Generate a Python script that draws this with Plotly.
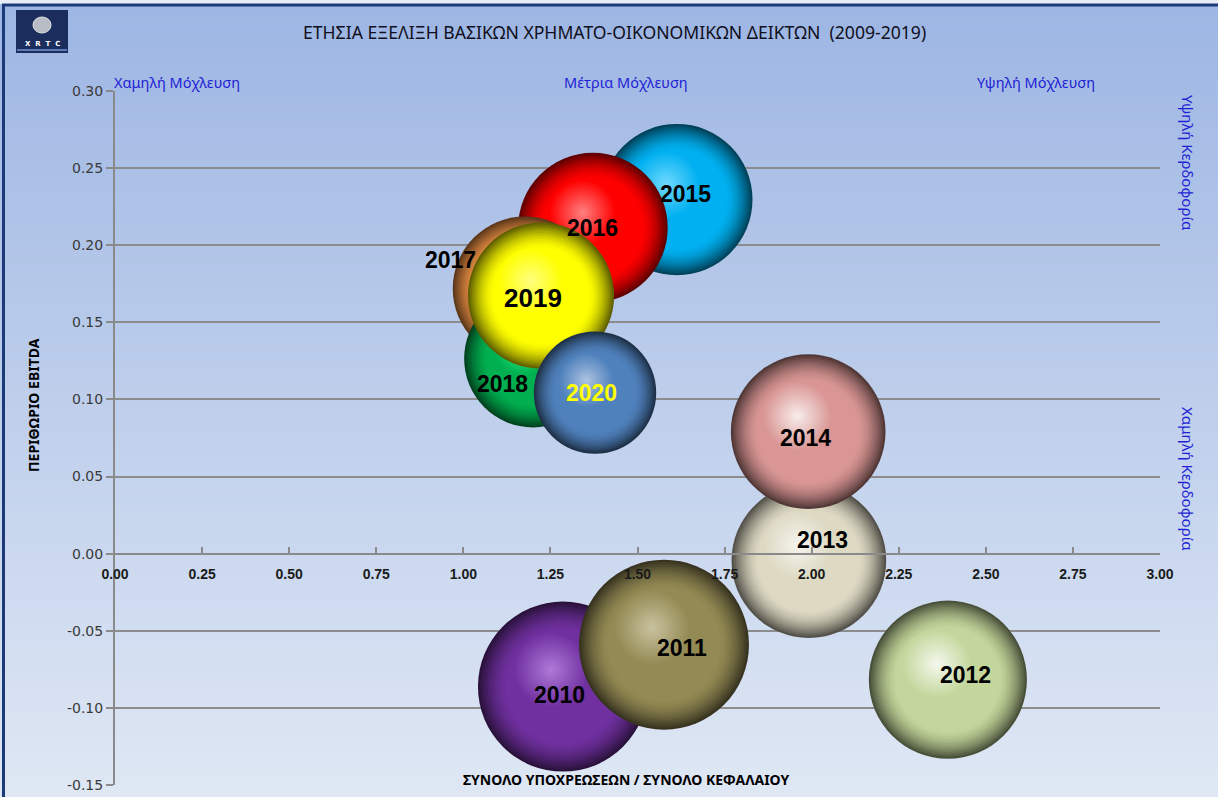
import colorsys
import plotly.graph_objects as go

# ---------------- data ----------------
years = ["2010", "2011", "2012", "2013", "2014", "2015", "2016", "2017", "2018", "2019", "2020"]
leverage = [1.286, 1.576, 2.391, 1.992, 1.990, 1.613, 1.372, 1.177, 1.200, 1.223, 1.378]
ebitda_margin = [-0.0862, -0.0590, -0.0817, -0.0045, 0.0791, 0.2296, 0.2114, 0.1718, 0.1265, 0.1673, 0.1044]
bubble_size = [1.00, 1.00, 0.93, 0.91, 0.91, 0.89, 0.88, 0.85, 0.81, 0.86, 0.72]

x_ticks = [0, 0.25, 0.5, 0.75, 1.0, 1.25, 1.5, 1.75, 2.0, 2.25, 2.5, 2.75, 3.0]
y_ticks = [-0.15, -0.10, -0.05, 0.00, 0.05, 0.10, 0.15, 0.20, 0.25, 0.30]

title_text = "ΕΤΗΣΙΑ ΕΞΕΛΙΞΗ ΒΑΣΙΚΩΝ ΧΡΗΜΑΤΟ-ΟΙΚΟΝΟΜΙΚΩΝ ΔΕΙΚΤΩΝ  (2009-2019)"
x_title = "ΣΥΝΟΛΟ ΥΠΟΧΡΕΩΣΕΩΝ / ΣΥΝΟΛΟ ΚΕΦΑΛΑΙΟΥ"
y_title = "ΠΕΡΙΘΩΡΙΟ EBITDA"
leverage_zones = ["Χαμηλή Μόχλευση", "Μέτρια Μόχλευση", "Υψηλή Μόχλευση"]
profit_zones = ["Υψηλή Κερδοφορία", "Χαμηλή Κερδοφορία"]

# ---------------- style ----------------
base_colors = ["#7030a0", "#948a54", "#c3d69b", "#ddd9c3", "#d99694", "#00b0f0", "#ff0000",
               "#f79646", "#00b050", "#ffff00", "#4f81bd"]
label_colors = ["#000000"] * 10 + ["#ffff00"]
label_size = [23, 23, 23, 23, 23, 23, 23, 23, 23, 26, 23]
label_dx = [-3, 18, 18, 14, -3, 9, 0, -74, -31, -8, -4]
label_dy = [-8, -3, 5, 21, -6, 6, 0, 29, -25, -2, 0]
MAX_DIAM = 170

W, H = 1218, 797
L, R, T, B = 115, 58, 91, 12
pw, ph = W - L - R, H - T - B


def px(xp):
    return (xp - L) / pw


def py(yp):
    return (H - B - yp) / ph


def hex2rgb(h):
    h = h.lstrip("#")
    return [int(h[i:i + 2], 16) for i in (0, 2, 4)]


def rgb(c):
    return "rgb(%d,%d,%d)" % tuple(max(0, min(255, round(v))) for v in c)


def mix(a, b, t):
    return [a[i] + (b[i] - a[i]) * t for i in range(3)]


def lighten(c, dl):
    h, l, s = colorsys.rgb_to_hls(*[v / 255 for v in c])
    l = min(0.95, l + dl)
    return [v * 255 for v in colorsys.hls_to_rgb(h, l, s)]


xmin, xmax = 0, 3
ymin, ymax = -0.15, 0.30
sx = pw / (xmax - xmin)
sy = ph / (ymax - ymin)

fig = go.Figure()

RIM_START = 0.66
N_RIM = 12
for i, yr in enumerate(years):
    base = hex2rgb(base_colors[i])
    hi = lighten(base, 0.25)
    dark = [v * 0.38 for v in base]
    diam = bubble_size[i] * MAX_DIAM
    xs, ys, sizes, cols, grads = [], [], [], [], []
    # soft rim: concentric discs, darker at the edge
    for k in range(N_RIM):
        r = 1 - k * (1 - RIM_START) / N_RIM
        t = (r - RIM_START) / (1 - RIM_START)
        c = mix(base, dark, t ** 1.6)
        xs.append(leverage[i]); ys.append(ebitda_margin[i])
        sizes.append(diam * r); cols.append(rgb(c)); grads.append(rgb(c))
    # body
    xs.append(leverage[i]); ys.append(ebitda_margin[i])
    sizes.append(diam * RIM_START); cols.append(rgb(base)); grads.append(rgb(base))
    # highlight, offset to the upper-left
    rad = diam / 2
    hr = 0.44
    xs.append(leverage[i] - 0.14 * rad / sx)
    ys.append(ebitda_margin[i] + 0.20 * rad / sy)
    sizes.append(diam * hr); cols.append(rgb(base)); grads.append(rgb(hi))
    fig.add_trace(go.Scatter(
        x=xs, y=ys, mode="markers",
        marker=dict(size=sizes, sizemode="diameter", color=cols, opacity=1,
                    line=dict(width=0), gradient=dict(type="radial", color=grads)),
        name=yr, hovertext=yr, hoverinfo="text", showlegend=False,
    ))

annotations = []
for i, yr in enumerate(years):
    annotations.append(dict(
        x=leverage[i], y=ebitda_margin[i], xref="x", yref="y", text="<b>%s</b>" % yr,
        showarrow=False, xshift=label_dx[i], yshift=label_dy[i],
        font=dict(family="Liberation Sans", size=label_size[i], color=label_colors[i]),
    ))

zone_font = dict(family="Noto Sans", size=14.5, color="#1f1fd6")
annotations += [
    dict(x=px(112), y=py(82), xref="paper", yref="paper", text=leverage_zones[0], showarrow=False,
         xanchor="left", yanchor="middle", font=zone_font),
    dict(x=px(626), y=py(82), xref="paper", yref="paper", text=leverage_zones[1], showarrow=False,
         xanchor="center", yanchor="middle", font=zone_font),
    dict(x=px(1036), y=py(82), xref="paper", yref="paper", text=leverage_zones[2], showarrow=False,
         xanchor="center", yanchor="middle", font=zone_font),
    dict(x=px(1188), y=py(163), xref="paper", yref="paper", text=profit_zones[0], showarrow=False,
         textangle=90, xanchor="center", yanchor="middle", font=dict(zone_font, size=15)),
    dict(x=px(1188), y=py(479), xref="paper", yref="paper", text=profit_zones[1], showarrow=False,
         textangle=90, xanchor="center", yanchor="middle", font=dict(zone_font, size=15)),
    dict(x=px(614), y=py(32), xref="paper", yref="paper", text=title_text, showarrow=False,
         xanchor="center", yanchor="middle",
         font=dict(family="Noto Sans", size=17.6, color="#101020")),
    dict(x=px(626), y=py(779), xref="paper", yref="paper", text="<b>%s</b>" % x_title, showarrow=False,
         xanchor="center", yanchor="middle",
         font=dict(family="Noto Sans", size=14, color="#000000")),
    dict(x=px(33), y=py(405), xref="paper", yref="paper", text="<b>%s</b>" % y_title, showarrow=False,
         textangle=-90, xanchor="center", yanchor="middle",
         font=dict(family="Noto Sans", size=14, color="#000000")),
    dict(x=px(42), y=py(44), xref="paper", yref="paper", text="<b>X  R  T  C</b>", showarrow=False,
         xanchor="center", yanchor="middle",
         font=dict(family="DejaVu Sans", size=7, color="#ffffff")),
]

# background gradient bands
shapes = []
top = (157, 182, 227)
bot = (223, 231, 244)
n = 100
for k in range(n):
    t = k / (n - 1)
    c = tuple(int(round(top[j] + (bot[j] - top[j]) * t)) for j in range(3))
    y0p = k * H / n
    y1p = (k + 1) * H / n + 1
    shapes.append(dict(type="rect", xref="paper", yref="paper", layer="below",
                       x0=px(0), x1=px(W), y0=py(y1p), y1=py(y0p),
                       fillcolor="rgb(%d,%d,%d)" % c, line=dict(width=0)))
shapes.append(dict(type="rect", xref="paper", yref="paper", layer="below",
                   x0=px(0), x1=px(W), y0=py(4), y1=py(0), fillcolor="#e8eef8", line=dict(width=0)))
shapes.append(dict(type="line", xref="paper", yref="paper", layer="above",
                   x0=px(2), x1=px(W), y0=py(5), y1=py(5), line=dict(color="#1d3a78", width=3)))
shapes.append(dict(type="line", xref="paper", yref="paper", layer="above",
                   x0=px(3.5), x1=px(3.5), y0=py(5), y1=py(H), line=dict(color="#1d3a78", width=3)))
# logo
shapes.append(dict(type="rect", xref="paper", yref="paper", layer="above",
                   x0=px(16), x1=px(68), y0=py(53), y1=py(10), fillcolor="#1b2d5c",
                   line=dict(width=0)))
shapes.append(dict(type="circle", xref="paper", yref="paper", layer="above",
                   x0=px(33), x1=px(51), y0=py(33), y1=py(17), fillcolor="#b8bcc4",
                   line=dict(color="#e0e0e0", width=1)))
shapes.append(dict(type="rect", xref="paper", yref="paper", layer="above",
                   x0=px(17), x1=px(67), y0=py(51), y1=py(49), fillcolor="#5d7ab8",
                   line=dict(width=0)))

fig.update_layout(
    width=W, height=H, autosize=False,
    margin=dict(l=L, r=R, t=T, b=B, pad=0, autoexpand=False),
    paper_bgcolor="#dde6f4", plot_bgcolor="rgba(0,0,0,0)",
    showlegend=False,
    annotations=annotations,
    shapes=shapes,
    xaxis=dict(
        range=[xmin, xmax], tickvals=x_ticks, ticktext=["<b>%.2f</b>" % v for v in x_ticks],
        showgrid=False, zeroline=False, automargin=False,
        showline=True, linecolor="#8a8a8a", linewidth=2,
        ticks="inside", ticklen=6, tickcolor="#8a8a8a", tickwidth=1.5,
        anchor="free", position=(0 - ymin) / (ymax - ymin),
        ticklabelstandoff=8,
        tickfont=dict(family="Liberation Sans", size=14, color="#1a1a1a"),
        fixedrange=True,
    ),
    yaxis=dict(
        range=[ymin, ymax], tickvals=y_ticks, ticktext=["%.2f" % v for v in y_ticks],
        showgrid=True, gridcolor="#8c8c8c", gridwidth=1.5, zeroline=False, automargin=False,
        showline=True, linecolor="#8a8a8a", linewidth=2,
        ticks="outside", ticklen=7, tickcolor="#8a8a8a", tickwidth=1.5,
        tickfont=dict(family="DejaVu Sans", size=14, color="#3a3a3a"),
        fixedrange=True,
    ),
)

fig.write_html("out.html", config={"displayModeBar": False},
               post_script="document.body.style.margin='0px';document.body.style.overflow='hidden';")
